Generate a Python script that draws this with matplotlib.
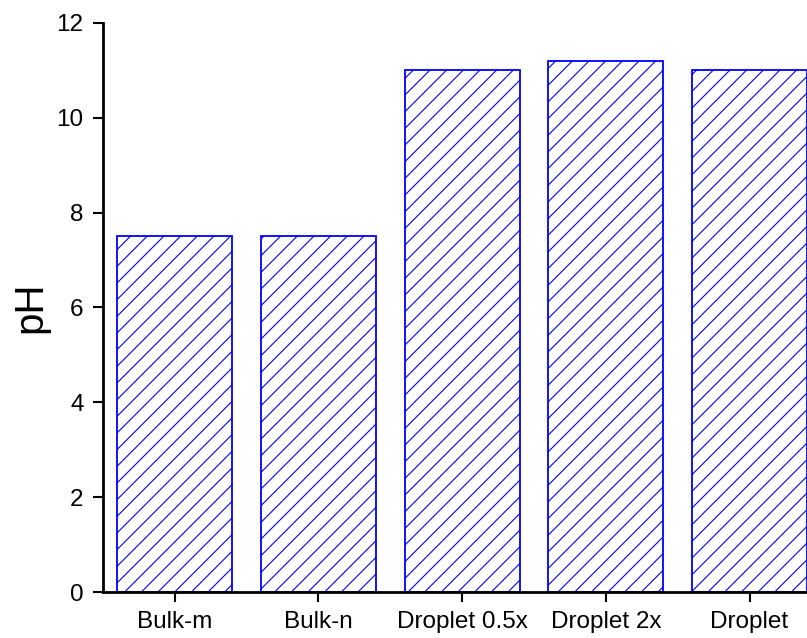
import matplotlib
matplotlib.use('Agg')
import matplotlib.pyplot as plt

categories = ['Bulk-m', 'Bulk-n', 'Droplet 0.5x', 'Droplet 2x', 'Droplet']
ph_values = [7.5, 7.5, 11.0, 11.2, 11.0]
yticks = [0, 2, 4, 6, 8, 10, 12]

plt.rcParams['font.family'] = ['Liberation Sans', 'DejaVu Sans']
plt.rcParams['hatch.linewidth'] = 0.8
plt.rcParams['hatch.color'] = '#0000ff'

fig = plt.figure(figsize=(8.07, 6.38), dpi=100)
ax = fig.add_axes([0.1276, 0.0721, 0.8724, 0.8919])

x = range(len(categories))
ax.bar(x, ph_values, width=0.8, facecolor='white', edgecolor='#0000ff',
       linewidth=1.3, hatch='//')

ax.set_xlim(-0.5, 4.4)
ax.set_ylim(0, 12)
ax.set_xticks(list(x))
ax.set_xticklabels(categories, fontsize=17.5)
ax.set_yticks(yticks)
ax.set_yticklabels([str(t) for t in yticks], fontsize=17.5)
ax.set_ylabel('pH', fontsize=29, labelpad=5)

for side in ['top', 'right']:
    ax.spines[side].set_visible(False)
for side in ['left', 'bottom']:
    ax.spines[side].set_linewidth(2)
ax.tick_params(axis='both', direction='out', length=7, width=1.5, pad=7)

fig.savefig('out.png', dpi=100)
